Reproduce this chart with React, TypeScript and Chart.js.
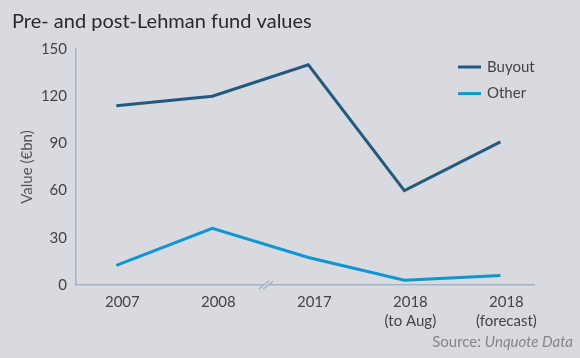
import React, { useEffect, useRef } from "react";
import { Chart, registerables } from "chart.js";

Chart.register(...registerables);

const categories: string[][] = [["2007"], ["2008"], ["2017"], ["2018", "(to Aug)"], ["2018", "(forecast)"]];
const buyout: number[] = [114, 120, 140, 60, 91];
const other: number[] = [12.5, 36, 17.5, 3, 6];
const yTicks: number[] = [0, 30, 60, 90, 120, 150];
const seriesNames: string[] = ["Buyout", "Other"];
const seriesColors: string[] = ["#23597f", "#0f95d2"];
const breakAt = 1.56;

const BG = "#d8dadf";
const AXIS = "#9fb3c8";
const FONT = "Lato, 'Open Sans', sans-serif";

const overlay = {
  id: "overlay",
  afterDraw(chart: any) {
    const ctx = chart.ctx as CanvasRenderingContext2D;
    const xs = chart.scales.x;
    const area = chart.chartArea;
    ctx.save();
    // title
    ctx.fillStyle = "#2a2a2a";
    ctx.font = `20px ${FONT}`;
    ctx.textAlign = "left";
    ctx.textBaseline = "alphabetic";
    ctx.fillText("Pre- and post-Lehman fund values", 12, 28);
    // source
    ctx.fillStyle = "#858585";
    ctx.textAlign = "right";
    ctx.textBaseline = "middle";
    const italic = "Unquote Data";
    ctx.font = `italic 15px ${FONT}`;
    const wi = ctx.measureText(italic).width;
    ctx.fillText(italic, 573, 342);
    ctx.font = `15px ${FONT}`;
    ctx.fillText("Source: ", 573 - wi, 342);
    // legend
    chart.data.datasets.forEach((ds: any, i: number) => {
      const y = 67 + i * 26.6;
      ctx.strokeStyle = ds.borderColor;
      ctx.lineWidth = 3;
      ctx.beginPath();
      ctx.moveTo(458, y);
      ctx.lineTo(481, y);
      ctx.stroke();
      ctx.fillStyle = "#444";
      ctx.font = `15px ${FONT}`;
      ctx.textAlign = "left";
      ctx.textBaseline = "middle";
      ctx.fillText(ds.label, 487, y);
    });
    // axis break
    const bx = xs.getPixelForValue(breakAt);
    const by = area.bottom;
    ctx.strokeStyle = BG;
    ctx.lineWidth = 3;
    ctx.beginPath();
    ctx.moveTo(bx - 2, by);
    ctx.lineTo(bx + 2, by);
    ctx.stroke();
    ctx.strokeStyle = AXIS;
    ctx.lineWidth = 1.3;
    for (const d of [-2.2, 2.2]) {
      ctx.beginPath();
      ctx.moveTo(bx + d - 5, by + 4);
      ctx.lineTo(bx + d + 5, by - 4);
      ctx.stroke();
    }
    ctx.restore();
  },
};

export default function App() {
  const ref = useRef<HTMLCanvasElement>(null);
  useEffect(() => {
    if (!ref.current) return;
    const chart = new Chart(ref.current, {
      type: "line",
      data: {
        datasets: [buyout, other].map((vals, si) => ({
          label: seriesNames[si],
          data: vals.map((v, i) => ({ x: i, y: v })),
          borderColor: seriesColors[si],
          backgroundColor: seriesColors[si],
          borderWidth: 3,
          pointRadius: 0,
          tension: 0,
          fill: false,
        })),
      },
      options: {
        responsive: false,
        animation: false,
        layout: { padding: { top: 49, right: 46, left: 0, bottom: 0 } },
        plugins: { legend: { display: false }, title: { display: false }, tooltip: { enabled: false } },
        scales: {
          x: {
            type: "linear",
            min: -0.42,
            max: 4.35,
            afterBuildTicks: (s: any) => {
              s.ticks = categories.map((_, i) => ({ value: i }));
            },
            afterFit: (s: any) => {
              s.height = 73;
            },
            grid: { display: false, drawTicks: false },
            border: { display: true, color: AXIS, width: 1.5 },
            ticks: {
              callback: (v: any) => categories[v as number],
              color: "#444",
              font: { family: FONT, size: 15, lineHeight: 1.3 },
              padding: 7,
              labelOffset: 6,
              maxRotation: 0,
              autoSkip: false,
            },
          },
          y: {
            min: 0,
            max: 150,
            afterBuildTicks: (s: any) => {
              s.ticks = yTicks.map((v) => ({ value: v }));
            },
            afterFit: (s: any) => {
              s.width = 76;
            },
            grid: { display: false, drawTicks: false },
            border: { display: true, color: AXIS, width: 1.5 },
            ticks: {
              color: "#444",
              font: { family: FONT, size: 15 },
              padding: 9,
            },
            title: {
              display: true,
              text: "Value (€bn)",
              color: "#555",
              font: { family: FONT, size: 15 },
              padding: { top: 18, bottom: 0 },
            },
          },
        },
      },
      plugins: [overlay],
    });
    return () => chart.destroy();
  }, []);
  return (
    <div style={{ position: "absolute", left: 0, top: 0, width: 580, height: 358, background: BG }}>
      <canvas ref={ref} width={580} height={358} />
    </div>
  );
}
